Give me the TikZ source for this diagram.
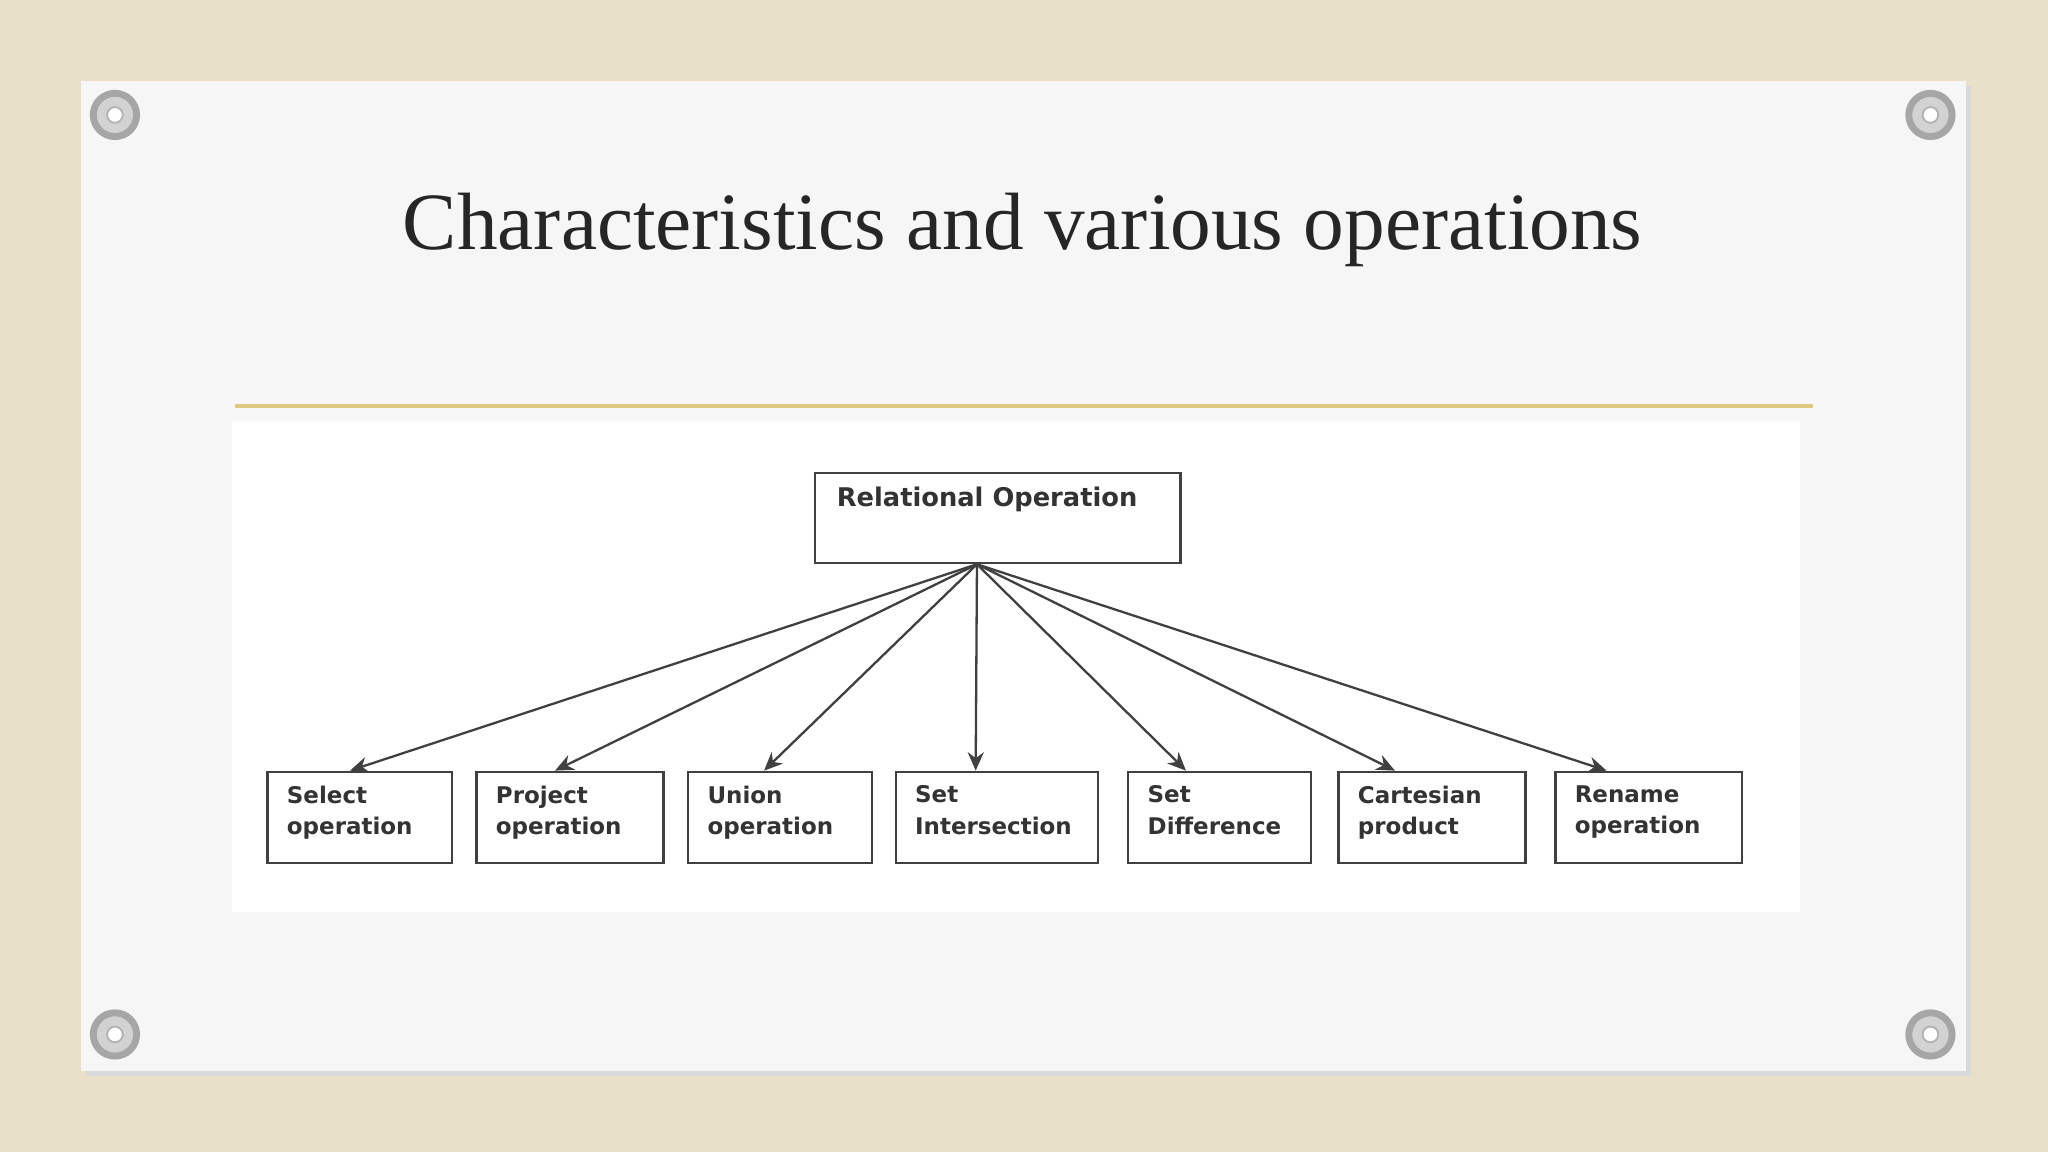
\documentclass[tikz,border=0pt]{standalone}
\usepackage{fontspec}
\setmainfont{Liberation Serif}
\newfontfamily\boxfont{DejaVu Sans}
\usetikzlibrary{arrows.meta}
\begin{document}
\begin{tikzpicture}[x=0.01cm,y=-0.01cm,
  child/.style={draw=black!75,line width=0.5pt,minimum width=#1*0.01cm,minimum height=0.7cm,anchor=north west,inner sep=0pt},
  lbl/.style={font=\boxfont\bfseries\fontsize{5}{6.8}\selectfont,align=left,anchor=north west,text=black!80,inner sep=0pt},
  conn/.style={draw=black!75,line width=0.5pt,-{Stealth[length=4pt,width=3.5pt]}},
  screw/.style={circle,draw=gray!70,fill=gray!35,line width=1.5pt,minimum size=0.3cm}]
\useasboundingbox (0,0) rectangle (1568,882);
\fill[color={rgb,255:red,232;green,224;blue,200}] (0,0) rectangle (1568,882);
\fill[black!15] (66,66) rectangle (1509,824);
\fill[color={rgb,255:red,246;green,246;blue,246}] (62,62) rectangle (1505,820);
\foreach \p/\q in {88/88,1478/88,88/792,1478/792}{
  \node[screw] at (\p,\q) {};
  \node[circle,fill=white,draw=gray!60,minimum size=0.12cm,inner sep=0pt] at (\p,\q) {};}
\node (title) at (783,176) {\fontsize{17.7}{20}\selectfont\color{black!85}Characteristics and various operations};
\draw[color={rgb,255:red,222;green,200;blue,130},line width=0.8pt] (180,311) -- (1388,311);
\fill[white] (178,322) rectangle (1378,698);
\node[child=280,minimum height=0.69cm] (root) at (623,361) {};
\node[lbl] at (640,372) {\fontsize{5.6}{8}\selectfont Relational Operation};
\coordinate (src) at (748,432);
\foreach \n/\x/\w/\t/\ax in {a/204/141/{Select\\operation}/268,
  b/364/143/{Project\\operation}/425,
  c/526/141/{Union\\operation}/585,
  d/685/155/{ Set\\Intersection}/747,
  e/863/140/{Set\\Difference}/908,
  f/1024/143/{Cartesian\\product}/1068,
  g/1190/143/{Rename\\operation}/1230}{
  \node[child=\w] (\n) at (\x,590) {};
  \node[lbl] at (\x+15,601) {\t};
  \coordinate (\n t) at (\ax,590);
  \draw[conn] (src) -- (\n t);}
\end{tikzpicture}
\end{document}
